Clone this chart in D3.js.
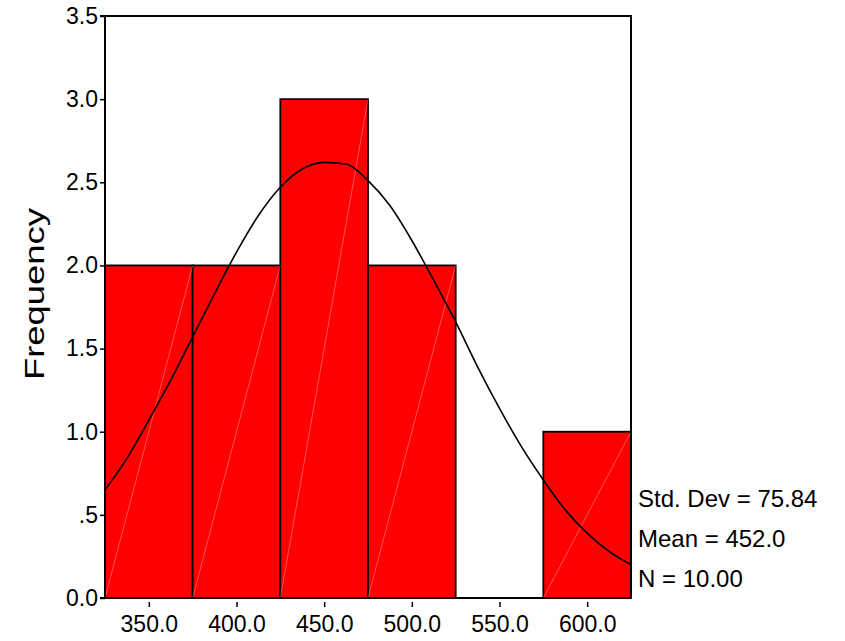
<!DOCTYPE html>
<html>
<head>
<meta charset="utf-8">
<script src="https://cdn.jsdelivr.net/npm/d3@7"></script>
<style>
  body { margin: 0; background: #fff; }
  svg text { font-family: "Liberation Sans", Arial, sans-serif; fill: #000; }
</style>
</head>
<body>
<div id="chart"></div>
<script>
// Histogram bins (lower edge, upper edge) and counts
var binStart = [325, 375, 425, 475, 525, 575];
var binEnd   = [375, 425, 475, 525, 575, 625];
var counts   = [2, 2, 3, 2, 0, 1];

// Normal curve
var curveX = [325, 337.5, 350, 362.5, 375, 387.5, 400, 412.5, 425, 437.5, 450, 462.5,
              475, 487.5, 500, 512.5, 525, 537.5, 550, 562.5, 575, 587.5, 600, 612.5, 625];
var curveY = [0.65, 0.84, 1.07, 1.31, 1.57, 1.83, 2.08, 2.30, 2.47, 2.58, 2.62, 2.61,
              2.51, 2.36, 2.15, 1.91, 1.66, 1.39, 1.14, 0.91, 0.71, 0.53, 0.39, 0.28, 0.20];

var xTicks = [350, 400, 450, 500, 550, 600];
var yTicks = [0, 0.5, 1, 1.5, 2, 2.5, 3, 3.5];
var yTickLabels = ["0.0", ".5", "1.0", "1.5", "2.0", "2.5", "3.0", "3.5"];

var stats = ["Std. Dev = 75.84", "Mean = 452.0", "N = 10.00"];

var margin = {top: 16, right: 214, bottom: 43, left: 105};
var W = 845, H = 641;
var width = W - margin.left - margin.right;   // 526
var height = H - margin.top - margin.bottom;  // 582

var svg = d3.select("#chart").append("svg")
    .attr("width", W)
    .attr("height", H);

var g = svg.append("g")
    .attr("transform", "translate(" + margin.left + "," + margin.top + ")");

var x = d3.scaleLinear().domain([325, 625]).range([0, width]);
var y = d3.scaleLinear().domain([0, 3.5]).range([height, 0]);

// bars
var bins = binStart.map(function (s, i) { return {x0: s, x1: binEnd[i], n: counts[i]}; })
    .filter(function (d) { return d.n > 0; });

g.selectAll(".bar")
    .data(bins)
    .enter().append("rect")
    .attr("class", "bar")
    .attr("x", function (d) { return x(d.x0); })
    .attr("y", function (d) { return y(d.n); })
    .attr("width", function (d) { return x(d.x1) - x(d.x0); })
    .attr("height", function (d) { return y(0) - y(d.n); })
    .attr("fill", "#ff0000")
    .attr("stroke", "#000")
    .attr("stroke-width", 1.8);

// faint diagonal inside each bar
g.selectAll(".diag")
    .data(bins)
    .enter().append("line")
    .attr("x1", function (d) { return x(d.x0); })
    .attr("y1", y(0))
    .attr("x2", function (d) { return x(d.x1); })
    .attr("y2", function (d) { return y(d.n); })
    .attr("stroke", "#fff")
    .attr("stroke-opacity", 0.4)
    .attr("stroke-width", 0.8);

// normal curve
var line = d3.line()
    .x(function (d, i) { return x(curveX[i]); })
    .y(function (d) { return y(d); })
    .curve(d3.curveMonotoneX);

g.append("path")
    .datum(curveY)
    .attr("d", line)
    .attr("fill", "none")
    .attr("stroke", "#000")
    .attr("stroke-width", 1.6);

// frame top and right
g.append("path")
    .attr("d", "M0,0H" + width + "V" + height)
    .attr("fill", "none")
    .attr("stroke", "#000")
    .attr("stroke-width", 2);

// axes
var yAxis = d3.axisLeft(y)
    .tickValues(yTicks)
    .tickSize(5)
    .tickPadding(2)
    .tickFormat(function (d, i) { return yTickLabels[i]; });

var xAxis = d3.axisBottom(x)
    .tickValues(xTicks)
    .tickSize(5)
    .tickPadding(13)
    .tickFormat(d3.format(".1f"));

var ya = g.append("g").attr("class", "y-axis").call(yAxis);
var xa = g.append("g").attr("class", "x-axis")
    .attr("transform", "translate(0," + height + ")")
    .call(xAxis);

[ya, xa].forEach(function (a) {
    a.select(".domain").attr("stroke-width", 2);
    a.selectAll(".tick line").attr("stroke-width", 1.5);
    a.selectAll("text").style("font-size", "23px").attr("fill", "#000");
});
ya.select(".domain").attr("d", "M-5,0H0V" + height + "H-5");
xa.select(".domain").attr("d", "M-5,0H" + width);
xa.selectAll(".tick line").attr("y1", 4).attr("y2", 9);
xa.selectAll("text").attr("dy", "0.71em");

// y label
svg.append("text")
    .attr("transform", "translate(44,294) rotate(-90)")
    .attr("text-anchor", "middle")
    .style("font-size", "27px")
    .attr("textLength", 172)
    .attr("lengthAdjust", "spacingAndGlyphs")
    .text("Frequency");

// stats block
svg.selectAll(".stat")
    .data(stats)
    .enter().append("text")
    .attr("class", "stat")
    .attr("x", 638)
    .attr("y", function (d, i) { return 507 + i * 40; })
    .style("font-size", "24px")
    .text(function (d) { return d; });
</script>
</body>
</html>
